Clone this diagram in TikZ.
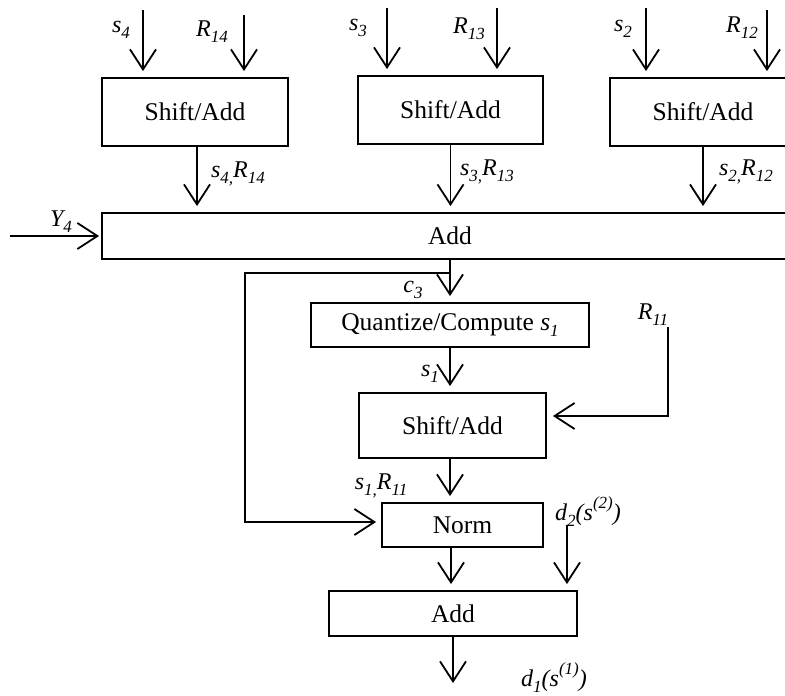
\documentclass[tikz,border=0pt]{standalone}
\usepackage{fontspec}
\setmainfont{Liberation Serif}
\usetikzlibrary{arrows.meta,calc}

% italic sub- and superscripts used in the signal labels
\newcommand\lbsub[1]{\raisebox{-0.25em}{\fontsize{17}{17}\selectfont\itshape #1}}
\newcommand\lbsup[1]{\raisebox{0.5em}{\fontsize{17}{17}\selectfont\itshape #1}}

\tikzset{
  blk/.style={draw, line width=1.9pt, inner sep=0pt,
              font=\fontsize{25.5}{30}\selectfont},
  lbl/.style={font=\fontsize{24}{28}\selectfont\itshape, inner sep=0pt},
  arr/.style={line width=1.8pt,
              -{Straight Barb[length=20pt,width=26pt]}, shorten >=6pt},
}

\begin{document}
\begin{tikzpicture}[x=1pt,y=-1pt]
\useasboundingbox (0,0) rectangle (785,696);
\clip (0,0) rectangle (785,696);

% processing blocks
\node[blk, minimum width=186pt, minimum height=68pt] (sa4) at (195,112) {Shift/Add};
\node[blk, minimum width=185pt, minimum height=68pt] (sa3) at (450.5,110) {Shift/Add};
\node[blk, minimum width=186pt, minimum height=68pt] (sa2) at (703,112) {Shift/Add};
\node[blk, minimum width=696pt, minimum height=46pt] (add) at (450,236) {Add};
\node[blk, minimum width=278pt, minimum height=44pt] (quant) at (450,325)
  {Quantize/Compute \textit{s}\lbsub{1}};
\node[blk, minimum width=187pt, minimum height=65pt] (sa1) at (452.5,425.5) {Shift/Add};
\node[blk, minimum width=161pt, minimum height=44pt] (norm) at (462.5,525) {Norm};
\node[blk, minimum width=248pt, minimum height=45pt] (sum) at (453,613.5) {Add};

% free ends of the input / output connectors
\coordinate (s4in)  at (143,10);
\coordinate (r14in) at (244,15);
\coordinate (s3in)  at (387,8);
\coordinate (r13in) at (497,8);
\coordinate (s2in)  at (646,8);
\coordinate (r12in) at (767,10);
\coordinate (y4in)  at (10,236);
\coordinate (r11in) at (668,327);
\coordinate (d2in)  at (567,525);
\coordinate (out)   at (453,689);
\coordinate (j)     at ($(add.south)+(0,13)$);
\path (j) ++(-205,0) coordinate (lc);

% inputs of the upper Shift/Add blocks
\draw[arr] (s4in)  -- (s4in  |- sa4.north);
\draw[arr] (r14in) -- (r14in |- sa4.north);
\draw[arr] (s3in)  -- (s3in  |- sa3.north);
\draw[arr] (r13in) -- (r13in |- sa3.north);
\draw[arr] (s2in)  -- (s2in  |- sa2.north);
\draw[arr] (r12in) -- (r12in |- sa2.north);

% partial products into the adder
\draw[arr] ([xshift=2pt]sa4.south) -- ([xshift=2pt]sa4.south |- add.north);
\draw[arr] (sa3.south) -- (sa3.south |- add.north);
\draw[arr] (sa2.south) -- (sa2.south |- add.north);
\draw[arr, shorten >=2pt] (y4in) -- (add.west);

% main chain
\draw[arr] (add.south) -- (quant.north);
\draw[arr] (quant.south) -- (quant.south |- sa1.north);
\draw[arr] (r11in) |- ([yshift=9.5pt]sa1.east);
\draw[arr] ([xshift=-2.5pt]sa1.south) -- ([xshift=-2.5pt]sa1.south |- norm.north);
\draw[arr, shorten >=5pt] (j) -- (lc) |- ([yshift=3pt]norm.west);
\draw[arr] ([xshift=-11.5pt]norm.south) -- ([xshift=-11.5pt]norm.south |- sum.north);
\draw[arr] (d2in) -- (d2in |- sum.north);
\draw[arr] (sum.south) -- (out);

% signal labels
\node[lbl] (ls4)   at (121,30)  {s\lbsub{4}};
\node[lbl] (lr14)  at (212,32)  {R\lbsub{14}};
\node[lbl] (ls3)   at (358,28)  {s\lbsub{3}};
\node[lbl] (lr13)  at (469,29)  {R\lbsub{13}};
\node[lbl] (ls2)   at (623,29)  {s\lbsub{2}};
\node[lbl] (lr12)  at (742,28)  {R\lbsub{12}};
\node[lbl] (lp4)   at (238,174) {s\lbsub{4,}R\lbsub{14}};
\node[lbl] (lp3)   at (487,172) {s\lbsub{3,}R\lbsub{13}};
\node[lbl] (lp2)   at (746,172) {s\lbsub{2,}R\lbsub{12}};
\node[lbl] (ly4)   at (61,222)  {Y\lbsub{4}};
\node[lbl] (lc3)   at (413,290) {c\lbsub{3}};
\node[lbl] (ls1)   at (430,374) {s\lbsub{1}};
\node[lbl] (lr11)  at (653,315) {R\lbsub{11}};
\node[lbl] (lp1)   at (381,486) {s\lbsub{1,}R\lbsub{11}};
\node[lbl] (ld2)   at (588,512) {d\lbsub{2}(s\lbsup{(2)})};
\node[lbl] (ld1)   at (554,678) {d\lbsub{1}(s\lbsup{(1)})};
\end{tikzpicture}
\end{document}
